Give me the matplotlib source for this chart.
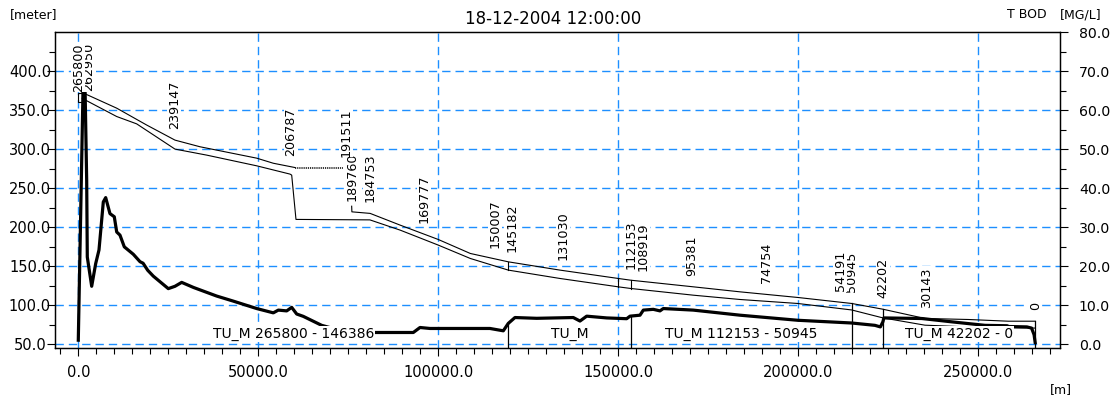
import numpy as np
import matplotlib
matplotlib.use("Agg")
import matplotlib.pyplot as plt
import matplotlib.transforms as mtransforms
from matplotlib.ticker import MultipleLocator, FixedLocator, FormatStrFormatter
from matplotlib.patches import Rectangle

plt.rcParams["font.family"] = ["DejaVu Sans"]

RIVER_LENGTH = 265800.0   # chainage at the upstream end [m]

# Total BOD along the river: distance from upstream end [m] -> concentration [mg/l]
bod_dist = [0, 1300, 1900, 2330, 2500, 3720, 4830, 5750, 6950, 7610, 8800, 10000,
            10670, 11580, 12780, 15280, 17140, 18000, 19280, 20830, 25000, 26860,
            28720, 32000, 38440, 43060, 49560, 54170, 55560, 57890, 59280, 60670,
            62500, 67610, 72000, 78240, 93060, 94920, 97690, 114360, 118060, 119440,
            121300, 127330, 137500, 139360, 141220, 146780, 152330, 153260, 156030,
            156960, 159720, 161580, 162500, 170830, 183800, 199830, 214830, 221300,
            222800, 223500, 223780, 234300, 242600, 251860, 258000, 258500, 263500,
            264800, 265500, 265800]
bod_conc = [1.1, 64.5, 64.5, 42.0, 22.4, 14.9, 20.7, 24.2, 36.5, 37.6, 33.5, 32.7,
            28.8, 28.0, 25.0, 23.1, 21.2, 20.8, 19.0, 17.5, 14.3, 14.9,
            15.9, 14.6, 12.4, 11.1, 9.2, 8.1, 8.8, 8.6, 9.5, 7.8,
            7.2, 4.9, 3.8, 3.07, 3.07, 4.35, 4.1, 4.1, 3.5, 5.4,
            6.9, 6.7, 6.9, 6.0, 7.25, 6.8, 6.6, 7.25, 7.5,
            8.8, 9.0, 8.6, 9.2, 8.8, 7.5, 6.2, 5.5, 4.9,
            4.5, 5.8, 6.8, 6.65, 5.8, 4.9, 4.8, 4.6, 4.5,
            4.2, 2.5, 0.5]

# Water level, upper reach (up to the weir pond) [m]
wl1_dist = [1100, 10670, 19000, 26860, 33800, 49560, 54170, 60190, 73610]
wl1_level = [372.5, 352.5, 330.9, 311.6, 303.1, 288.5, 282.0, 276.5, 276.5]

# Water level, lower reach [m]
wl2_dist = [75940, 76000, 81070, 89400, 100000, 108900, 119450, 133800, 150000,
            153440, 170860, 183800, 199830, 214830, 223440, 235200, 247230,
            258330, 265800]
wl2_level = [227.0, 219.8, 217.8, 202.8, 184.4, 166.5, 155.8, 145.2, 134.5,
             132.3, 123.8, 117.4, 110.2, 102.5, 95.2, 83.3, 82.0,
             79.8, 79.8]

# Bed level [m]
bed_dist = [1100, 10670, 16220, 26860, 35670, 49560, 58810, 59280, 60470, 81000,
            89400, 100000, 108900, 119450, 133800, 150000, 153440, 170860,
            183800, 199830, 214830, 223440, 235200, 250000, 265800]
bed_level = [365.0, 341.8, 332.4, 300.1, 292.4, 278.7, 268.1, 266.8, 210.1, 209.5,
             196.4, 177.2, 160.1, 145.2, 134.5, 123.8, 121.7, 113.1,
             107.6, 102.5, 94.2, 84.1, 74.7, 72.0, 71.0]

# Upstream boundary box levels [m]
boundary_box = [360.6, 372.0]

# Chainages written along the profile
chainage_labels = [0, 30143, 42202, 50945, 54191, 74754, 95381, 108919, 112153,
                   131030, 145182, 150007, 169777, 184753, 189760, 191511,
                   206787, 239147, 262950, 265800]

# Structures marked between bed and water surface
structure_chainages = [146386, 115800, 112153]

# Branches: name, upstream chainage, downstream chainage
branch_names = ["TU_M 265800 - 146386", "TU_M", "TU_M 112153 - 50945", "",
                "TU_M 42202 - 0"]
branch_up = [265800, 146386, 112153, 50945, 42202]
branch_down = [146386, 112153, 50945, 42202, 0]
# which curve each branch end marker reaches up to
branch_end_top = ["bod", "bod", "water", "water", "water"]

level_ticks = [50, 100, 150, 200, 250, 300, 350, 400]
BOD_MIN, BOD_MAX = -0.9, 80.0


def to_dist(ch):
    return RIVER_LENGTH - np.asarray(ch, dtype=float)


def bod_to_level(v):
    return 50.0 + 5.0 * np.asarray(v)


def water_level_at(x):
    segs = [(wl1_dist, wl1_level), (wl2_dist, wl2_level)]
    for xs, ys in segs:
        if xs[0] <= x <= xs[-1]:
            return float(np.interp(x, xs, ys))
    best = min(segs, key=lambda s: min(abs(x - s[0][0]), abs(x - s[0][-1])))
    return float(np.interp(x, best[0], best[1]))


fig = plt.figure(figsize=(11.15, 3.98), dpi=100)
ax = fig.add_axes([55 / 1115, 1 - 348 / 398, 1005 / 1115, 316 / 398])
ax2 = ax.twinx()

ax.set_xlim(-6470, 272700)
ax.set_ylim(bod_to_level(BOD_MIN), bod_to_level(BOD_MAX))
ax2.set_ylim(BOD_MIN, BOD_MAX)

grid_blue = "#1e8fff"
ax.xaxis.set_major_locator(MultipleLocator(50000))
ax.xaxis.set_minor_locator(MultipleLocator(5000))
ax.xaxis.set_major_formatter(FormatStrFormatter("%.1f"))
ax.yaxis.set_major_locator(FixedLocator(level_ticks))
ax.yaxis.set_minor_locator(FixedLocator(np.arange(75, 450, 50)))
ax.yaxis.set_major_formatter(FormatStrFormatter("%.1f"))
ax2.yaxis.set_major_locator(MultipleLocator(10))
ax2.yaxis.set_minor_locator(MultipleLocator(5))
ax2.yaxis.set_major_formatter(FormatStrFormatter("%.1f"))

ax.grid(True, which="major", color=grid_blue, linestyle=(0, (6, 3.6)), linewidth=1.0)
ax.set_axisbelow(True)

for a in (ax, ax2):
    a.tick_params(which="major", length=6, width=0.8, labelsize=10.5, direction="out")
    a.tick_params(which="minor", length=4.5, width=0.8, direction="out")
    for s in a.spines.values():
        s.set_linewidth(0.9)
ax.tick_params(axis="y", which="major", pad=12)
for lbl in ax.get_yticklabels():
    lbl.set_horizontalalignment("center")
ax.tick_params(axis="x", pad=6)
ax2.tick_params(axis="y", which="major", pad=7.5, labelsize=10.2)

# Bed and water surface
ax.plot(bed_dist, bed_level, color="black", lw=0.8, zorder=3)
ax.plot(wl1_dist[:-1], wl1_level[:-1], color="black", lw=0.8, zorder=3)
ax.plot(wl1_dist[-2:], wl1_level[-2:], color="black", lw=1.1,
        linestyle=(0, (0.8, 0.6)), zorder=3)
ax.plot(wl2_dist, wl2_level, color="black", lw=0.8, zorder=3)

# Upstream boundary box
ax.add_patch(Rectangle((to_dist(RIVER_LENGTH), boundary_box[0]), 1100,
                       boundary_box[1] - boundary_box[0], fill=False,
                       edgecolor="black", lw=0.8, zorder=3))

# Structures between bed and water surface
for ch in structure_chainages:
    x = float(to_dist(ch))
    ax.plot([x, x], [np.interp(x, bed_dist, bed_level), water_level_at(x)],
            color="black", lw=0.8, zorder=3)

# BOD concentration (right axis)
ax.plot(bod_dist, bod_to_level(bod_conc), color="black", lw=2.3, zorder=4,
        solid_joinstyle="round")

# Branch end markers and names
ybot = ax.get_ylim()[0]
for up, down, top in zip(branch_up, branch_down, branch_end_top):
    x = float(to_dist(down))
    if top == "bod":
        ytop = float(bod_to_level(np.interp(x + 30, bod_dist, bod_conc)))
    else:
        ytop = water_level_at(x)
    ax.plot([x, x], [ybot, ytop], color="black", lw=0.9, zorder=3)

name_tr = mtransforms.blended_transform_factory(ax.transData, ax.transAxes)
for name, up, down in zip(branch_names, branch_up, branch_down):
    if not name:
        continue
    xc = float((to_dist(up) + to_dist(down)) / 2)
    ax.text(xc, 0.044, name, transform=name_tr, ha="center", va="center",
            fontsize=10, zorder=6,
            bbox=dict(facecolor="white", edgecolor="none", pad=0.6))

# Chainage labels above the water surface
renderer = fig.canvas.get_renderer()
top_px = ax.transAxes.transform((0, 1))[1]
gap_px = 11
for i, ch in enumerate(chainage_labels):
    x = float(to_dist(ch))
    lev = water_level_at(x)
    base = ax.transData.transform((x, lev))[1] + gap_px
    t = ax.text(x, 0, str(ch), rotation=90, ha="center", va="bottom",
                fontsize=9.2, zorder=7 + i * 0.01,
                bbox=dict(facecolor="white", edgecolor="none", pad=0.4))
    t.set_transform(mtransforms.blended_transform_factory(
        ax.transData, mtransforms.IdentityTransform()))
    t.set_y(base)
    h = t.get_window_extent(renderer).height
    if base + h > top_px - gap_px:
        t.set_y(top_px - gap_px - h)

# Titles and units
fig.text(0.4963, 1 - 19.5 / 398, "18-12-2004 12:00:00", ha="center", va="center",
         fontsize=12)
fig.text(10 / 1115, 1 - 15 / 398, "[meter]", ha="left", va="center", fontsize=9)
fig.text(1047 / 1115, 1 - 15 / 398, "T BOD", ha="right", va="center", fontsize=9)
fig.text(1060 / 1115, 1 - 15 / 398, "[MG/L]", ha="left", va="center", fontsize=9)
fig.text(1050 / 1115, 1 - 390 / 398, "[m]", ha="left", va="center", fontsize=9)

fig.savefig("out.png", dpi=100)
